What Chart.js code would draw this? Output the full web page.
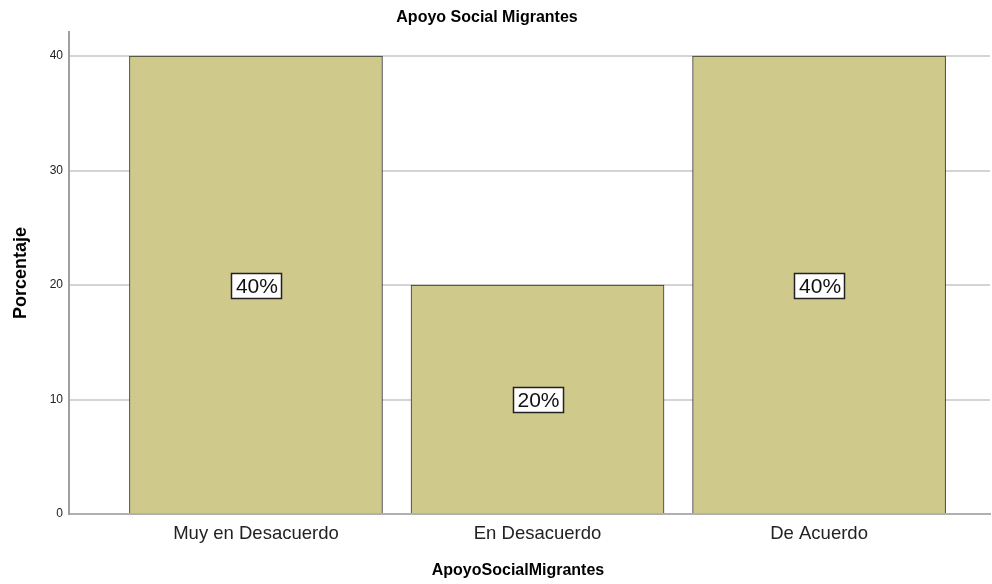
<!DOCTYPE html>
<html>
<head>
<meta charset="utf-8">
<script src="https://cdn.jsdelivr.net/npm/chart.js@4"></script>
<style>
  html, body { margin: 0; padding: 0; background: #fff; }
  #wrap { width: 992px; height: 584px; }
</style>
</head>
<body>
<div id="wrap"><canvas id="barChart" width="992" height="584"></canvas></div>
<script>
const categories = ['Muy en Desacuerdo', 'En Desacuerdo', 'De Acuerdo'];
const percents = [40, 20, 40];
const yTicks = [0, 10, 20, 30, 40];
const chartTitle = 'Apoyo Social Migrantes';
const xTitle = 'ApoyoSocialMigrantes';

const FONT = "'Liberation Sans', Arial, sans-serif";

// white boxed percentage in the middle of each bar
const boxLabels = {
  id: 'boxLabels',
  afterDatasetsDraw(chart) {
    const ctx = chart.ctx;
    const xs = chart.scales.x, ys = chart.scales.y;
    ctx.save();
    ctx.font = '21px ' + FONT;
    ctx.textAlign = 'center';
    ctx.textBaseline = 'middle';
    percents.forEach((v, i) => {
      const txt = v + '%';
      const cx = xs.getPixelForValue(i + 1);
      const cy = ys.getPixelForValue(v / 2);
      const w = Math.round(ctx.measureText(txt).width + 8);
      const h = 25;
      const x0 = Math.round(cx - w / 2), y0 = Math.round(cy - h / 2);
      ctx.fillStyle = '#fff';
      ctx.fillRect(x0, y0, w, h);
      ctx.strokeStyle = '#222';
      ctx.lineWidth = 1.5;
      ctx.strokeRect(x0 + 0.5, y0 + 0.5, w, h);
      ctx.fillStyle = '#111';
      ctx.fillText(txt, cx + 1, cy + 2);
    });
    ctx.restore();
  }
};

// chart title and x title, placed like the original (a bit left of the axis middle)
const titles = {
  id: 'titles',
  afterDraw(chart) {
    const ctx = chart.ctx;
    ctx.save();
    ctx.font = 'bold 16px ' + FONT;
    ctx.fillStyle = '#000';
    ctx.textAlign = 'center';
    ctx.textBaseline = 'middle';
    ctx.fillText(chartTitle, 487, 18);
    ctx.fillText(xTitle, 518, 571);
    ctx.restore();
  }
};

const ctx = document.getElementById('barChart').getContext('2d');
const barChart = new Chart(ctx, {
  type: 'bar',
  data: {
    datasets: [
      {
        label: 'Porcentaje',
        data: percents.map((v, i) => ({ x: i + 1, y: v })),
        backgroundColor: '#CFC98B',
        borderColor: '#333333',
        borderWidth: 1,
        barThickness: 253,
        grouped: false
      }
    ]
  },
  options: {
    responsive: false,
    animation: false,
    layout: { padding: { top: 32, right: 2, left: 6, bottom: 0 } },
    plugins: {
      legend: { display: false },
      tooltip: { enabled: false },
      title: { display: false }
    },
    scales: {
      x: {
        type: 'linear',
        offset: false,
        min: 0.336,
        max: 3.607,
        afterBuildTicks(scale) {
          scale.ticks = categories.map((c, i) => ({ value: i + 1 }));
        },
        afterFit(scale) { scale.height = 70; },
        ticks: {
          callback: (v) => categories[v - 1],
          color: '#222',
          font: { family: FONT, size: 18.5 },
          padding: 9
        },
        grid: { display: false, drawTicks: false, offset: false },
        border: { display: true, color: '#b0b0b0', width: 2 },
        title: { display: false }
      },
      y: {
        min: 0,
        max: 42.1,
        afterBuildTicks(scale) {
          scale.ticks = yTicks.map(v => ({ value: v }));
        },
        afterFit(scale) { scale.width = 63; },
        ticks: {
          color: '#222',
          font: { family: FONT, size: 12 },
          padding: 6
        },
        grid: {
          color: (c) => c.tick && c.tick.value === 0 ? 'rgba(0,0,0,0)' : '#d4d4d4',
          lineWidth: 2,
          drawTicks: false
        },
        border: { display: true, color: '#a0a0a0', width: 2 },
        title: {
          display: true,
          text: 'Porcentaje',
          color: '#000',
          font: { family: FONT, size: 18, weight: 'bold' },
          padding: { top: 4, bottom: 4 }
        }
      }
    }
  },
  plugins: [boxLabels, titles]
});
</script>
</body>
</html>
